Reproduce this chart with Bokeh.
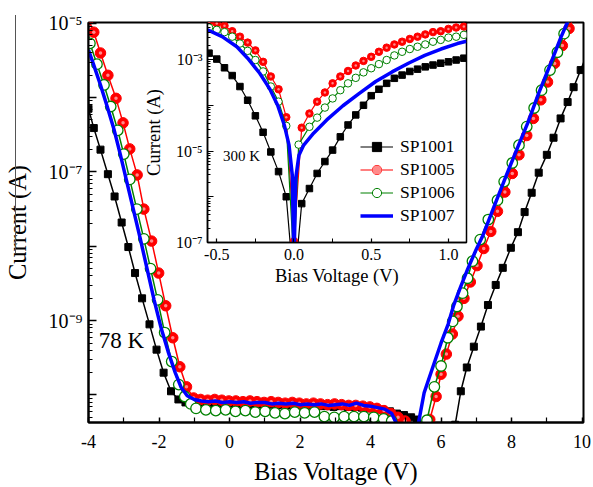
from bokeh.plotting import figure
from bokeh.models import (FixedTicker, CustomJSTickFormatter, Range1d, Label,
                          Legend, LegendItem, Div)
from bokeh.embed import file_html
from bokeh.resources import INLINE

FONT = "Liberation Serif"

# ---------------- main panel (78 K): bias voltage (V) and log10 of current (A)
sp1001_v = [-4.0, -3.85, -3.66, -3.45, -3.26, -3.06, -2.87, -2.68, -2.48, -2.27, -2.07, -1.87,
            -1.66, -1.45, -1.25, -1.05, -0.85, -0.65, -0.45, -0.25, -0.05, 0.15, 0.35, 0.55,
            0.75, 0.95, 1.15, 1.35, 1.55, 1.75, 1.95, 2.15, 2.35, 2.55, 2.75, 2.95, 3.15, 3.35,
            3.55, 3.75, 3.95, 4.15, 4.35, 4.55, 4.75, 4.95, 5.15, 5.32, 5.8, 6.40, 6.56, 6.73,
            6.93, 7.13, 7.33, 7.55, 7.75, 7.98, 8.18, 8.37, 8.57, 8.77, 9.00, 9.19, 9.39, 9.59,
            9.76, 9.96, 10.15]
sp1001_log = [-6.15, -6.41, -6.70, -7.03, -7.33, -7.68, -8.01, -8.36, -8.70, -9.05, -9.39, -9.70,
              -9.95, -10.06, -10.10, -10.10, -10.11, -10.10, -10.11, -10.12, -10.11, -10.12, -10.12, -10.13,
              -10.12, -10.13, -10.13, -10.14, -10.13, -10.14, -10.14, -10.15, -10.14, -10.15, -10.15, -10.16,
              -10.15, -10.16, -10.16, -10.17, -10.18, -10.19, -10.20, -10.22, -10.25, -10.27, -10.30, -10.33,
              -11.5, -10.40, -9.95, -9.63, -9.35, -9.08, -8.79, -8.52, -8.29, -8.02, -7.81, -7.54,
              -7.28, -7.01, -6.77, -6.54, -6.28, -6.06, -5.86, -5.63, -5.40]

sp1005_v = [-4.0, -3.85, -3.66, -3.45, -3.22, -3.02, -2.83, -2.62, -2.43, -2.21, -2.01, -1.81,
            -1.61, -1.41, -1.22, -1.02, -0.82, -0.62, -0.42, -0.22, -0.02, 0.18, 0.38, 0.58,
            0.78, 0.98, 1.18, 1.38, 1.58, 1.78, 1.98, 2.18, 2.38, 2.58, 2.78, 2.98, 3.18, 3.38,
            3.58, 3.78, 3.98, 4.18, 4.38, 4.58, 4.78, 4.98, 5.3, 5.68, 5.86, 6.00, 6.15, 6.32,
            6.48, 6.65, 6.83, 7.02, 7.21, 7.41, 7.60, 7.81, 8.02, 8.21, 8.43, 8.62, 8.83, 9.02,
            9.22, 9.44, 9.63, 9.83]
sp1005_log = [-4.95, -5.12, -5.40, -5.70, -6.01, -6.34, -6.69, -7.04, -7.50, -7.93, -8.36, -8.80,
              -9.23, -9.62, -9.89, -10.04, -10.06, -10.07, -10.06, -10.07, -10.08, -10.08, -10.09, -10.08,
              -10.09, -10.10, -10.09, -10.10, -10.11, -10.10, -10.11, -10.12, -10.11, -10.12, -10.13, -10.12,
              -10.13, -10.14, -10.14, -10.15, -10.16, -10.18, -10.21, -10.25, -10.30, -10.35, -11.5, -10.33,
              -10.02, -9.72, -9.45, -9.18, -8.94, -8.70, -8.48, -8.26, -8.03, -7.80, -7.53, -7.27,
              -7.02, -6.77, -6.51, -6.28, -6.03, -5.79, -5.54, -5.30, -5.07, -4.83]

sp1006_v = [-3.96, -3.76, -3.56, -3.37, -3.17, -3.00, -2.83, -2.63, -2.43, -2.24, -2.04, -1.84,
            -1.64, -1.44, -1.27, -1.10, -0.95, -0.67, -0.39, -0.11, 0.17, 0.45, 0.73, 1.01,
            1.29, 1.57, 1.85, 2.13, 2.41, 2.69, 2.97, 3.25, 3.53, 3.81, 4.09, 4.37, 4.60, 5.1,
            5.60, 5.81, 6.00, 6.19, 6.33, 6.45, 6.61, 6.75, 6.89, 7.11, 7.34, 7.60, 7.79, 8.02,
            8.21, 8.43, 8.64, 8.85, 9.09, 9.30, 9.49, 9.70]
sp1006_log = [-5.27, -5.55, -5.83, -6.12, -6.44, -6.76, -7.10, -7.50, -7.90, -8.30, -8.72, -9.16,
              -9.55, -9.86, -10.02, -10.12, -10.18, -10.20, -10.21, -10.20, -10.22, -10.21, -10.23, -10.22,
              -10.24, -10.25, -10.23, -10.24, -10.23, -10.29, -10.30, -10.29, -10.29, -10.29, -10.30, -10.32,
              -10.35, -11.5, -10.34, -9.89, -9.61, -9.23, -9.01, -8.81, -8.63, -8.43, -8.20, -7.91,
              -7.64, -7.38, -7.13, -6.88, -6.64, -6.39, -6.14, -5.90, -5.63, -5.39, -5.14, -4.90]

sp1007_v = [-4.00, -3.86, -3.66, -3.47, -3.27, -3.10, -2.93, -2.73, -2.53, -2.34, -2.14, -1.94,
            -1.74, -1.54, -1.37, -1.20, -1.00, -0.8, -0.6, -0.4, -0.2, 0.0, 0.2, 0.4, 0.6, 0.8,
            1.0, 1.2, 1.4, 1.6, 1.8, 2.0, 2.2, 2.4, 2.6, 2.8, 3.0, 3.2, 3.4, 3.6, 3.8, 4.0, 4.2,
            4.4, 4.6, 4.75, 5.05, 5.35, 5.52, 5.77, 6.00, 6.20, 6.36, 6.56, 6.76, 6.99, 7.19,
            7.50, 7.84, 8.12, 8.46, 8.77, 9.11, 9.39, 9.59, 9.75]
sp1007_log = [-5.36, -5.55, -5.83, -6.12, -6.44, -6.76, -7.10, -7.50, -7.90, -8.30, -8.72, -9.10,
              -9.42, -9.70, -9.90, -10.01, -10.06, -10.08, -10.09, -10.08, -10.10, -10.09, -10.10, -10.09,
              -10.11, -10.10, -10.10, -10.12, -10.11, -10.12, -10.11, -10.13, -10.12, -10.13, -10.12, -10.14,
              -10.13, -10.12, -10.14, -10.11, -10.14, -10.15, -10.17, -10.19, -10.25, -10.40, -11.5, -10.40,
              -9.97, -9.62, -9.30, -9.05, -8.79, -8.54, -8.30, -8.05, -7.85, -7.47, -7.06, -6.73,
              -6.34, -5.94, -5.54, -5.20, -4.98, -4.78]

# ---------------- inset (300 K)
in1001_v = [-0.55, -0.50, -0.45, -0.40, -0.35, -0.30, -0.25, -0.20, -0.15, -0.10, -0.05, 0.0,
            0.05, 0.10, 0.15, 0.20, 0.25, 0.30, 0.35, 0.40, 0.45, 0.50, 0.55, 0.60, 0.65, 0.70,
            0.75, 0.80, 0.85, 0.90, 0.95, 1.00, 1.05, 1.10]
in1001_log = [-2.86, -2.99, -3.18, -3.35, -3.59, -3.89, -4.23, -4.59, -5.02, -5.45, -6.00, -8.0,
              -6.15, -5.82, -5.49, -5.23, -4.98, -4.69, -4.43, -4.21, -4.00, -3.79, -3.65, -3.52,
              -3.41, -3.34, -3.26, -3.21, -3.16, -3.12, -3.08, -3.05, -3.01, -2.97]

in1005_v = in1001_v
in1005_log = [-2.19, -2.21, -2.26, -2.38, -2.50, -2.63, -2.80, -3.05, -3.37, -3.65, -4.26, -6.97,
              -4.49, -4.18, -3.92, -3.72, -3.52, -3.37, -3.25, -3.13, -3.03, -2.94, -2.83, -2.74,
              -2.67, -2.61, -2.55, -2.50, -2.45, -2.40, -2.38, -2.33, -2.30, -2.28]

in1006_v = [-0.55, -0.50, -0.45, -0.40, -0.35, -0.30, -0.25, -0.20, -0.15, -0.10, -0.05, 0.0,
            0.03, 0.10, 0.15, 0.20, 0.25, 0.30, 0.35, 0.40, 0.45, 0.50, 0.55, 0.60, 0.65, 0.70,
            0.75, 0.80, 0.85, 0.90, 0.95, 1.00, 1.05, 1.10]
in1006_log = [-2.30, -2.35, -2.40, -2.50, -2.65, -2.81, -3.01, -3.26, -3.59, -3.92, -4.45, -7.5,
              -4.86, -4.47, -4.27, -4.05, -3.85, -3.67, -3.52, -3.40, -3.28, -3.19, -3.10, -3.01,
              -2.91, -2.83, -2.77, -2.72, -2.67, -2.61, -2.57, -2.52, -2.50, -2.46]

in1007_v = [-0.56, -0.465, -0.37, -0.30, -0.222, -0.159, -0.106, -0.063, -0.032, -0.011, 0.0,
            0.011, 0.032, 0.063, 0.127, 0.212, 0.317, 0.423, 0.529, 0.635, 0.741, 0.847, 0.952,
            1.058, 1.117]
in1007_log = [-2.35, -2.50, -2.72, -2.97, -3.30, -3.63, -4.00, -4.43, -4.87, -5.53, -7.5,
              -5.60, -5.09, -4.87, -4.61, -4.32, -4.01, -3.74, -3.48, -3.27, -3.08, -2.91, -2.77,
              -2.65, -2.60]

series_names = ["SP1001", "SP1005", "SP1006", "SP1007"]
main_x_ticks = [-4, -2, 0, 2, 4, 6, 8, 10]
main_x_minor = [-3, -1, 1, 3, 5, 7, 9]
inset_x_ticks = [-0.5, 0.0, 0.5, 1.0]
inset_x_minor = [-0.25, 0.25, 0.75]


def cur(logs):
    return [10.0 ** v for v in logs]


def decade_ticks(lo, hi):
    return [10.0 ** e for e in range(lo, hi + 1)]


def decade_minor(lo, hi):
    return [k * 10.0 ** e for e in range(lo, hi + 1) for k in range(2, 10)]


SUP_JS = """
const sup = {"0":"\u2070","1":"\u00b9","2":"\u00b2","3":"\u00b3","4":"\u2074","5":"\u2075",
             "6":"\u2076","7":"\u2077","8":"\u2078","9":"\u2079","-":"\u207b"};
const e = Math.round(Math.log10(tick));
if (Math.abs(e) % 2 == 0) { return ""; }
return "10" + String(e).split("").map(c => sup[c]).join("");
"""

BLACK = "#000000"
RED = "#ff0000"
GREEN = "#008000"
BLUE = "#0000ff"
SHINE = "#ff8a8a"

# ---------------- main figure
p = figure(width=593, height=487, x_range=Range1d(-4.0, 10.04),
           y_range=Range1d(10 ** -10.37, 10 ** -4.99), y_axis_type="log",
           output_backend="svg", toolbar_location=None,
           min_border_left=88, min_border_right=10, min_border_top=22, min_border_bottom=64)
p.xgrid.visible = False
p.ygrid.visible = False
p.outline_line_color = "black"
p.outline_line_width = 2
p.background_fill_color = "white"
p.border_fill_color = "white"

xa = p.xaxis[0]
xa.ticker = FixedTicker(ticks=main_x_ticks, minor_ticks=main_x_minor)
xa.formatter = CustomJSTickFormatter(code="return tick.toFixed(0);")
xa.axis_label = "Bias Voltage (V)"
ya = p.yaxis[0]
ya.ticker = FixedTicker(ticks=decade_ticks(-10, -5), minor_ticks=decade_minor(-11, -5))
ya.formatter = CustomJSTickFormatter(code=SUP_JS)
ya.axis_label = "Current (A)"
for ax in (xa, ya):
    ax.axis_line_width = 2
    ax.axis_line_color = "black"
    ax.major_tick_out = 0
    ax.minor_tick_out = 0
    ax.major_tick_line_width = 1.5
    ax.minor_tick_line_width = 1.2
    ax.major_label_text_font = FONT
    ax.axis_label_text_font = FONT
    ax.axis_label_text_font_style = "normal"
    ax.axis_label_text_font_size = "24.5px"
    ax.major_label_text_color = "black"
    ax.axis_label_text_color = "black"
xa.major_tick_in = 5
xa.minor_tick_in = 5
xa.major_label_text_font_size = "18px"
xa.major_label_standoff = 12
xa.axis_label_standoff = 7
ya.major_tick_in = 8
ya.minor_tick_in = 4
ya.major_label_text_font_size = "20px"
ya.major_label_standoff = 6
ya.axis_label_standoff = 15

p.line(sp1001_v, cur(sp1001_log), color=BLACK, line_width=1.5)
p.scatter(sp1001_v, cur(sp1001_log), marker="square", size=7, color=BLACK)
p.line(sp1005_v, cur(sp1005_log), color=RED, line_width=1.5)
p.scatter(sp1005_v, cur(sp1005_log), marker="circle", size=10.5, fill_color=RED, line_color=RED)
p.scatter(sp1005_v, cur(sp1005_log), marker="circle", size=3.5, fill_color=SHINE, line_color=None)
p.line(sp1006_v, cur(sp1006_log), color=GREEN, line_width=1.5)
p.scatter(sp1006_v, cur(sp1006_log), marker="circle", size=10.5, fill_color="white",
          line_color=GREEN, line_width=1.3)
p.line(sp1007_v, cur(sp1007_log), color=BLUE, line_width=3.5)

p.add_layout(Label(x=-3.71, y=10 ** -9.27, text="78 K", text_font=FONT, text_font_size="23px",
                   text_baseline="middle", text_align="left", text_color="black"))

# ---------------- inset figure
ins = figure(width=330, height=270, x_range=Range1d(-0.56, 1.117),
             y_range=Range1d(1e-7, 10 ** -2.19), y_axis_type="log",
             output_backend="svg", toolbar_location=None,
             min_border_left=62, min_border_right=4, min_border_top=2, min_border_bottom=48,
             styles={"position": "absolute", "left": "140px", "top": "20px"})
ins.xgrid.visible = False
ins.ygrid.visible = False
ins.outline_line_color = "black"
ins.outline_line_width = 1.5
ins.background_fill_color = "white"
ins.border_fill_alpha = 0
ix = ins.xaxis[0]
ix.ticker = FixedTicker(ticks=inset_x_ticks, minor_ticks=inset_x_minor)
ix.formatter = CustomJSTickFormatter(code="return tick.toFixed(1);")
ix.axis_label = "Bias Voltage (V)"
iy = ins.yaxis[0]
iy.ticker = FixedTicker(ticks=decade_ticks(-7, -3), minor_ticks=decade_minor(-8, -3))
iy.formatter = CustomJSTickFormatter(code=SUP_JS)
iy.axis_label = "Current (A)"
for ax in (ix, iy):
    ax.axis_line_width = 1.5
    ax.major_tick_out = 0
    ax.minor_tick_out = 0
    ax.major_tick_line_width = 1.2
    ax.minor_tick_line_width = 1
    ax.major_label_text_font = FONT
    ax.major_label_text_font_size = "16px"
    ax.axis_label_text_font = FONT
    ax.axis_label_text_font_style = "normal"
    ax.axis_label_text_font_size = "18.5px"
    ax.major_label_text_color = "black"
    ax.axis_label_text_color = "black"
ix.major_tick_in = 4
ix.minor_tick_in = 4
ix.major_label_standoff = 6
ix.axis_label_standoff = 3
iy.major_tick_in = 6
iy.minor_tick_in = 3
iy.major_label_standoff = 5
iy.axis_label_standoff = 9

l1 = ins.line(in1001_v, cur(in1001_log), color=BLACK, line_width=1.2)
s1 = ins.scatter(in1001_v, cur(in1001_log), marker="square", size=6.5, color=BLACK)
l2 = ins.line(in1005_v, cur(in1005_log), color=RED, line_width=1.2)
s2 = ins.scatter(in1005_v, cur(in1005_log), marker="circle", size=7.5, fill_color=RED, line_color=RED)
h2 = ins.scatter(in1005_v, cur(in1005_log), marker="circle", size=2.5, fill_color=SHINE,
                 line_color=None)
l3 = ins.line(in1006_v, cur(in1006_log), color=GREEN, line_width=1.2)
s3 = ins.scatter(in1006_v, cur(in1006_log), marker="circle", size=7.5, fill_color="white",
                 line_color=GREEN, line_width=1)
l4 = ins.line(in1007_v, cur(in1007_log), color=BLUE, line_width=3.5)

ins.add_layout(Label(x=-0.46, y=10 ** -5.1, text="300 K", text_font=FONT, text_font_size="15px",
                     text_baseline="middle", text_align="left", text_color="black"))

legend = Legend(items=[LegendItem(label=series_names[0], renderers=[l1, s1]),
                       LegendItem(label=series_names[1], renderers=[l2, s2, h2]),
                       LegendItem(label=series_names[2], renderers=[l3, s3]),
                       LegendItem(label=series_names[3], renderers=[l4])],
                location=(153, 15), background_fill_alpha=0, border_line_alpha=0,
                padding=0, margin=0, spacing=0, label_height=23, glyph_height=23,
                glyph_width=33, label_standoff=7, label_text_font=FONT,
                label_text_font_size="17.5px", label_text_color="black")
ins.add_layout(legend)

# thin rule left of the y-axis title, as in the source image
rule = Div(text="", width=1, height=238,
           styles={"position": "absolute", "left": "10px", "top": "10px",
                   "background-color": "#555555"})

open("out.html", "w").write(file_html([p, ins, rule], INLINE))
